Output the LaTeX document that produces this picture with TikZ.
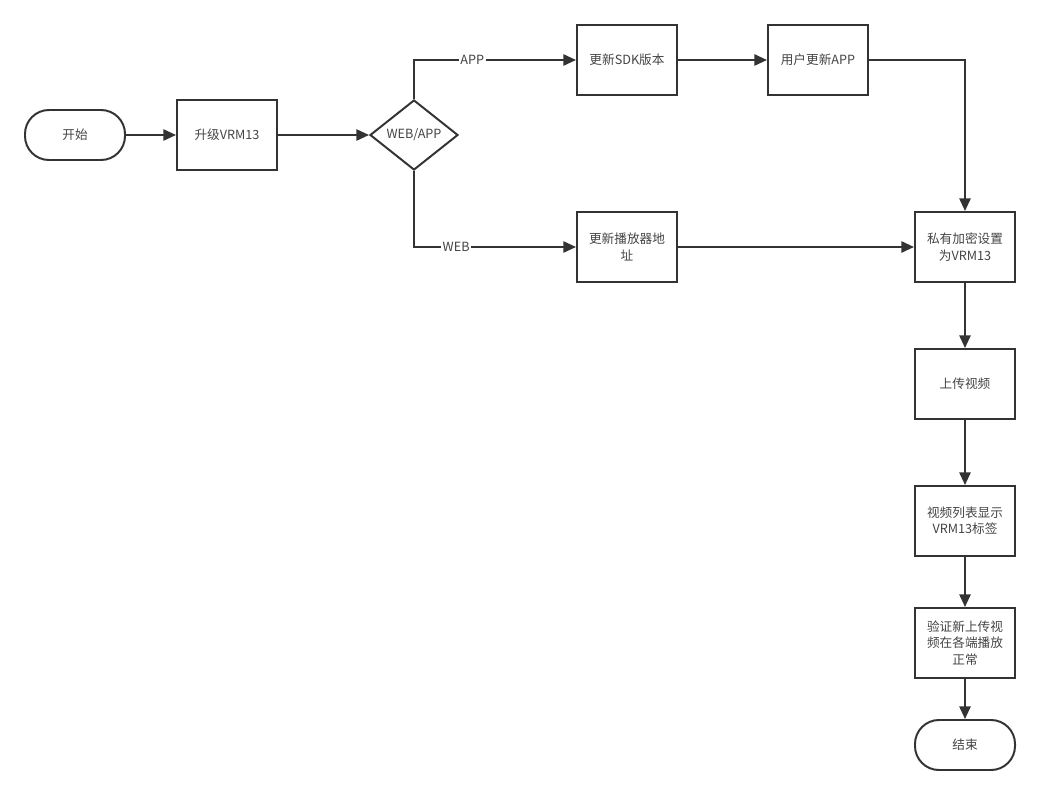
\documentclass[tikz,border=0pt]{standalone}
\usepackage{fontspec}
\setmainfont{Noto Sans CJK SC}
\usetikzlibrary{shapes,arrows.meta}
\definecolor{linegray}{HTML}{333333}
\definecolor{textgray}{HTML}{444444}
\tikzset{
  box/.style={draw=linegray, line width=1.4pt, minimum width=2.5cm, minimum height=1.75cm,
    align=center, text=textgray, font=\fontsize{9}{11.5}\selectfont},
  term/.style={box, rounded corners=0.6cm, minimum height=1.25cm},
  choice/.style={box, diamond, aspect=1.27, minimum width=2.2cm, minimum height=1.75cm, inner sep=0pt},
  flow/.style={draw=linegray, line width=1.4pt, -{Triangle[length=9pt,width=8pt]}},
  tag/.style={fill=white, inner sep=1pt, text=textgray, font=\fontsize{9}{11.5}\selectfont}
}
\begin{document}
\begin{tikzpicture}[x=0.025cm, y=-0.025cm]
        \useasboundingbox (0,0) rectangle (1040,795);
        % Nodes
        \node [term] (start) at (75,135) {开始};
        \node [box] (upgrade) at (227,135) {升级VRM13};
        \node [choice] (platform) at (414,135) {WEB/APP};
        \node [box] (sdk) at (627,60) {更新SDK版本};
        \node [box] (userapp) at (818,60) {用户更新APP};
        \node [box] (player) at (627,247) {更新播放器地\\址};
        \node [box] (private) at (965,247) {私有加密设置\\为VRM13};
        \node [box] (upload) at (965,384) {上传视频};
        \node [box] (listtag) at (965,521) {视频列表显示\\VRM13标签};
        \node [box] (verify) at (965,643) {验证新上传视\\频在各端播放\\正常};
        \node [term] (finish) at (965,745) {结束};
        % Connectors
        \draw [flow] (start) -- (upgrade);
        \draw [flow] (upgrade) -- (platform);
        \draw [flow] (platform.north) |- node [tag, pos=0.68] {APP} (sdk);
        \draw [flow] (platform.south) |- node [tag, pos=0.63] {WEB} (player);
        \draw [flow] (sdk) -- (userapp);
        \draw [flow] (userapp) -| (private.north);
        \draw [flow] (player) -- (private);
        \draw [flow] (private) -- (upload);
        \draw [flow] (upload) -- (listtag);
        \draw [flow] (listtag) -- (verify);
        \draw [flow] (verify) -- (finish);
\end{tikzpicture}
\end{document}
